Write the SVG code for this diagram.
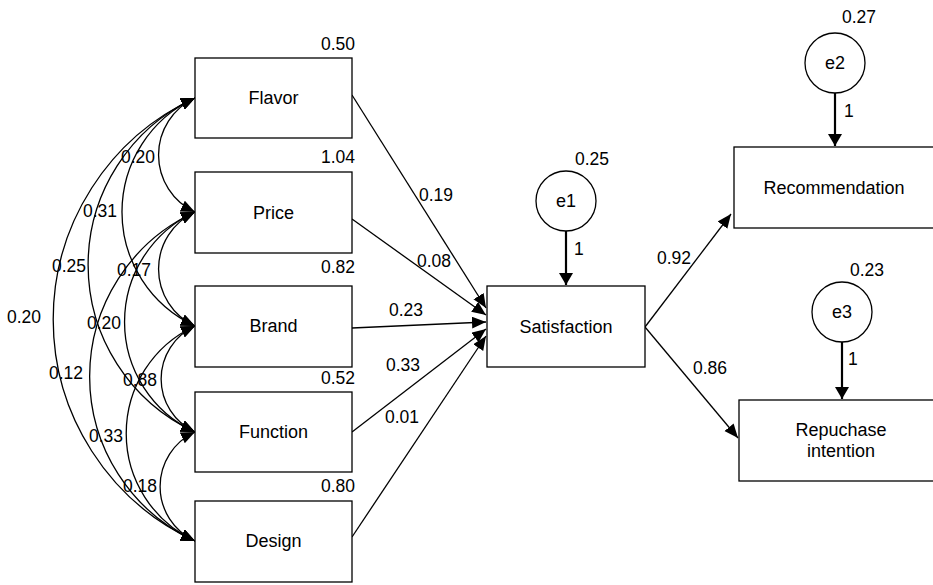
<svg xmlns="http://www.w3.org/2000/svg" width="933" height="585" viewBox="0 0 933 585">
<style>
.box{fill:#fff;stroke:#000;stroke-width:1.3}
.lbl{font-family:"Liberation Sans",Arial,sans-serif;font-size:18px;fill:#000;text-anchor:middle}
.num{font-family:"Liberation Sans",Arial,sans-serif;font-size:17.5px;fill:#000}
.cov{fill:none;stroke:#000;stroke-width:1.3;marker-start:url(#ah);marker-end:url(#ah)}
.path{fill:none;stroke:#000;stroke-width:1.3;marker-end:url(#ah)}
.err{fill:none;stroke:#000;stroke-width:2.2;marker-end:url(#ahb)}
</style>
<defs>
<marker id="ah" markerUnits="userSpaceOnUse" markerWidth="15" markerHeight="13" refX="14" refY="6" orient="auto-start-reverse" viewBox="0 0 15 13">
<path d="M0,0 L14,6 L0,12 z" fill="#000"/>
</marker>
<marker id="ahb" markerUnits="userSpaceOnUse" markerWidth="14" markerHeight="15" refX="12" refY="7" orient="auto" viewBox="0 0 14 15">
<path d="M0,0 L12,7 L0,14 z" fill="#000"/>
</marker>
</defs>
<rect width="933" height="585" fill="#fff"/>

<g id="connectors">
<path class="cov" d="M195,98 A62.8,62.8 0 0 0 195,212"/>
<path class="cov" d="M195,98 A125.5,125.5 0 0 0 195,326"/>
<path class="cov" d="M195,98 A183.9,183.9 0 0 0 195,432"/>
<path class="cov" d="M195,98 A243.9,243.9 0 0 0 195,541"/>
<path class="cov" d="M195,212 A62.8,62.8 0 0 0 195,326"/>
<path class="cov" d="M195,212 A121.1,121.1 0 0 0 195,432"/>
<path class="cov" d="M195,212 A181.1,181.1 0 0 0 195,541"/>
<path class="cov" d="M195,326 A58.4,58.4 0 0 0 195,432"/>
<path class="cov" d="M195,326 A118.4,118.4 0 0 0 195,541"/>
<path class="cov" d="M195,432 A60,60 0 0 0 195,541"/>
<path class="path" d="M352,95 L486,308"/>
<path class="path" d="M352,219 L486,315"/>
<path class="path" d="M352,328 L486,322"/>
<path class="path" d="M352,432 L486,329"/>
<path class="path" d="M352,537 L486,336"/>
<path class="path" d="M645,327 L731,214"/>
<path class="path" d="M645,327 L738,438"/>
<path class="err" d="M566,231 L566,285"/>
<path class="err" d="M835,93 L835,146"/>
<path class="err" d="M842,342 L842,399"/>
</g>

<g id="cov-labels">
<text class="num" x="121" y="163">0.20</text>
<text class="num" x="83" y="217">0.31</text>
<text class="num" x="52" y="272">0.25</text>
<text class="num" x="117" y="276">0.17</text>
<text class="num" x="7" y="323">0.20</text>
<text class="num" x="87" y="329">0.20</text>
<text class="num" x="49" y="379">0.12</text>
<text class="num" x="123" y="386">0.88</text>
<text class="num" x="89" y="442">0.33</text>
<text class="num" x="123" y="492">0.18</text>
</g>

<g id="path-labels">
<text class="num" x="419" y="201">0.19</text>
<text class="num" x="417" y="267">0.08</text>
<text class="num" x="389" y="316">0.23</text>
<text class="num" x="386" y="371">0.33</text>
<text class="num" x="385" y="423">0.01</text>
<text class="num" x="657" y="264">0.92</text>
<text class="num" x="693" y="374">0.86</text>
</g>

<g id="flavor">
<rect class="box" x="195" y="58" width="157" height="80"/>
<text class="lbl" x="273.5" y="104">Flavor</text>
<text class="num" x="355" y="50" text-anchor="end">0.50</text>
</g>
<g id="price">
<rect class="box" x="195" y="172" width="157" height="81"/>
<text class="lbl" x="273.5" y="219">Price</text>
<text class="num" x="355" y="163" text-anchor="end">1.04</text>
</g>
<g id="brand">
<rect class="box" x="195" y="286" width="157" height="81"/>
<text class="lbl" x="273.5" y="332">Brand</text>
<text class="num" x="355" y="273" text-anchor="end">0.82</text>
</g>
<g id="function">
<rect class="box" x="195" y="392" width="157" height="80"/>
<text class="lbl" x="273.5" y="438">Function</text>
<text class="num" x="355" y="384" text-anchor="end">0.52</text>
</g>
<g id="design">
<rect class="box" x="195" y="501" width="157" height="81"/>
<text class="lbl" x="273.5" y="547">Design</text>
<text class="num" x="355" y="492" text-anchor="end">0.80</text>
</g>

<g id="satisfaction">
<rect class="box" x="487" y="286" width="158" height="81"/>
<text class="lbl" x="566" y="333">Satisfaction</text>
</g>
<g id="e1">
<circle class="box" cx="566" cy="201" r="30"/>
<text class="lbl" x="566" y="207">e1</text>
<text class="num" x="575" y="165">0.25</text>
<text class="num" x="574" y="255">1</text>
</g>

<g id="recommendation">
<rect class="box" x="734" y="147" width="205" height="81"/>
<text class="lbl" x="834" y="194">Recommendation</text>
</g>
<g id="e2">
<circle class="box" cx="835" cy="63" r="30"/>
<text class="lbl" x="835" y="69">e2</text>
<text class="num" x="842" y="23">0.27</text>
<text class="num" x="844" y="117">1</text>
</g>

<g id="repurchase">
<rect class="box" x="739" y="400" width="200" height="81"/>
<text class="lbl" x="841" y="436">Repuchase</text>
<text class="lbl" x="841" y="457">intention</text>
</g>
<g id="e3">
<circle class="box" cx="842" cy="312" r="30"/>
<text class="lbl" x="842" y="318">e3</text>
<text class="num" x="850" y="276">0.23</text>
<text class="num" x="848" y="365">1</text>
</g>
</svg>
